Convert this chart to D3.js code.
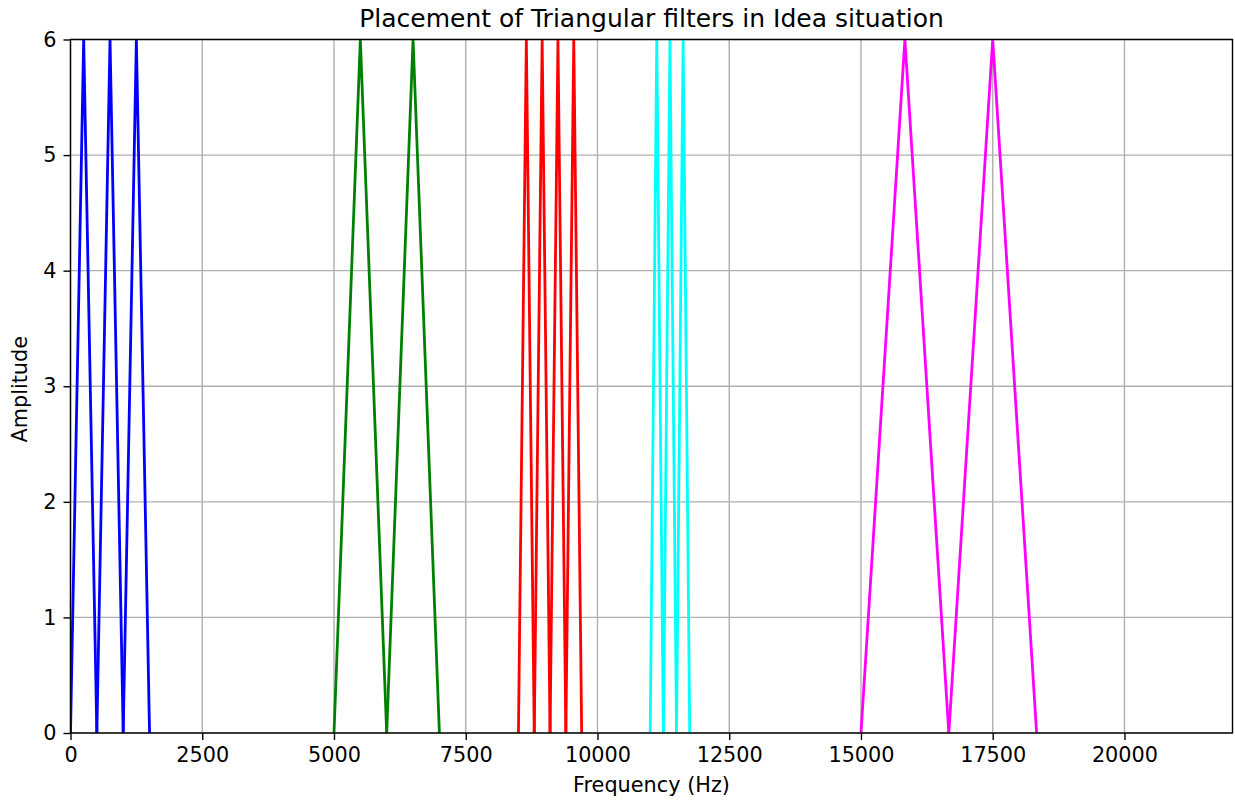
<!DOCTYPE html>
<html>
<head>
<meta charset="utf-8">
<script src="https://cdn.jsdelivr.net/npm/d3@7"></script>
<style>
  body { margin: 0; background: #fff; }
  text { font-family: "DejaVu Sans", sans-serif; fill: #000; }
</style>
</head>
<body>
<div id="chart"></div>
<script>
// filter bank edges (Hz): each filter goes edge[i] -> centre -> edge[i+1]
const blueEdges = [0, 500, 1000, 1500];
const greenEdges = [5000, 6000, 7000];
const redEdges = [8500, 8800, 9100, 9400, 9700];
const cyanEdges = [11000, 11250, 11500, 11750];
const magentaEdges = [15000, 16667, 18333];
const peakAmplitude = 6;
const xTicks = [0, 2500, 5000, 7500, 10000, 12500, 15000, 17500, 20000];
const yTicks = [0, 1, 2, 3, 4, 5, 6];

const groups = [
  { color: "#0000ff", edges: blueEdges },
  { color: "#008000", edges: greenEdges },
  { color: "#ff0000", edges: redEdges },
  { color: "#00ffff", edges: cyanEdges },
  { color: "#ff00ff", edges: magentaEdges }
];

const width = 1235, height = 803;
const margin = { top: 39.5, right: 2.5, bottom: 70, left: 70.5 };
const innerW = width - margin.left - margin.right;
const innerH = height - margin.top - margin.bottom;

const svg = d3.select("#chart").append("svg")
  .attr("width", width)
  .attr("height", height);

const x = d3.scaleLinear().domain([0, 22050]).range([0, innerW]);
const y = d3.scaleLinear().domain([0, 6]).range([innerH, 0]);

const g = svg.append("g").attr("transform", `translate(${margin.left},${margin.top})`);

g.append("defs").append("clipPath").attr("id", "clip")
  .append("rect").attr("width", innerW).attr("height", innerH);

// grid
g.append("g").selectAll("line").data(xTicks).join("line")
  .attr("x1", d => x(d)).attr("x2", d => x(d))
  .attr("y1", 0).attr("y2", innerH)
  .attr("stroke", "#b0b0b0").attr("stroke-width", 1.4);
g.append("g").selectAll("line").data(yTicks).join("line")
  .attr("y1", d => y(d)).attr("y2", d => y(d))
  .attr("x1", 0).attr("x2", innerW)
  .attr("stroke", "#b0b0b0").attr("stroke-width", 1.4);

// triangles
const line = d3.line().x(d => x(d[0])).y(d => y(d[1]));
groups.forEach(grp => {
  for (let i = 0; i < grp.edges.length - 1; i++) {
    const a = grp.edges[i], b = grp.edges[i + 1];
    const pts = [[a, 0], [(a + b) / 2, peakAmplitude], [b, 0]];
    g.append("path")
      .attr("d", line(pts))
      .attr("fill", "none")
      .attr("stroke", grp.color)
      .attr("stroke-width", 2.8)
      .attr("stroke-linejoin", "round")
      .attr("clip-path", "url(#clip)");
  }
});

// axes
const xAxis = g.append("g").attr("transform", `translate(0,${innerH})`)
  .call(d3.axisBottom(x).tickValues(xTicks).tickSize(7).tickPadding(7).tickFormat(d3.format("d")));
const yAxis = g.append("g")
  .call(d3.axisLeft(y).tickValues(yTicks).tickSize(7).tickPadding(7).tickFormat(d3.format("d")));
[xAxis, yAxis].forEach(ax => {
  ax.select(".domain").remove();
  ax.selectAll(".tick line").attr("stroke", "#000").attr("stroke-width", 1.4);
  ax.selectAll(".tick text").style("font-size", "20.8px").attr("fill", "#000");
});

g.append("rect")
  .attr("width", innerW).attr("height", innerH)
  .attr("fill", "none").attr("stroke", "#000").attr("stroke-width", 1.4);

// labels
svg.append("text")
  .attr("x", margin.left + innerW / 2).attr("y", 27)
  .attr("text-anchor", "middle")
  .style("font-size", "25px")
  .text("Placement of Triangular filters in Idea situation");
svg.append("text")
  .attr("x", margin.left + innerW / 2).attr("y", 792)
  .attr("text-anchor", "middle")
  .style("font-size", "20.8px")
  .text("Frequency (Hz)");
svg.append("text")
  .attr("transform", `translate(27,${margin.top + innerH / 2 + 3}) rotate(-90)`)
  .attr("text-anchor", "middle")
  .style("font-size", "20.8px")
  .text("Amplitude");
</script>
</body>
</html>
